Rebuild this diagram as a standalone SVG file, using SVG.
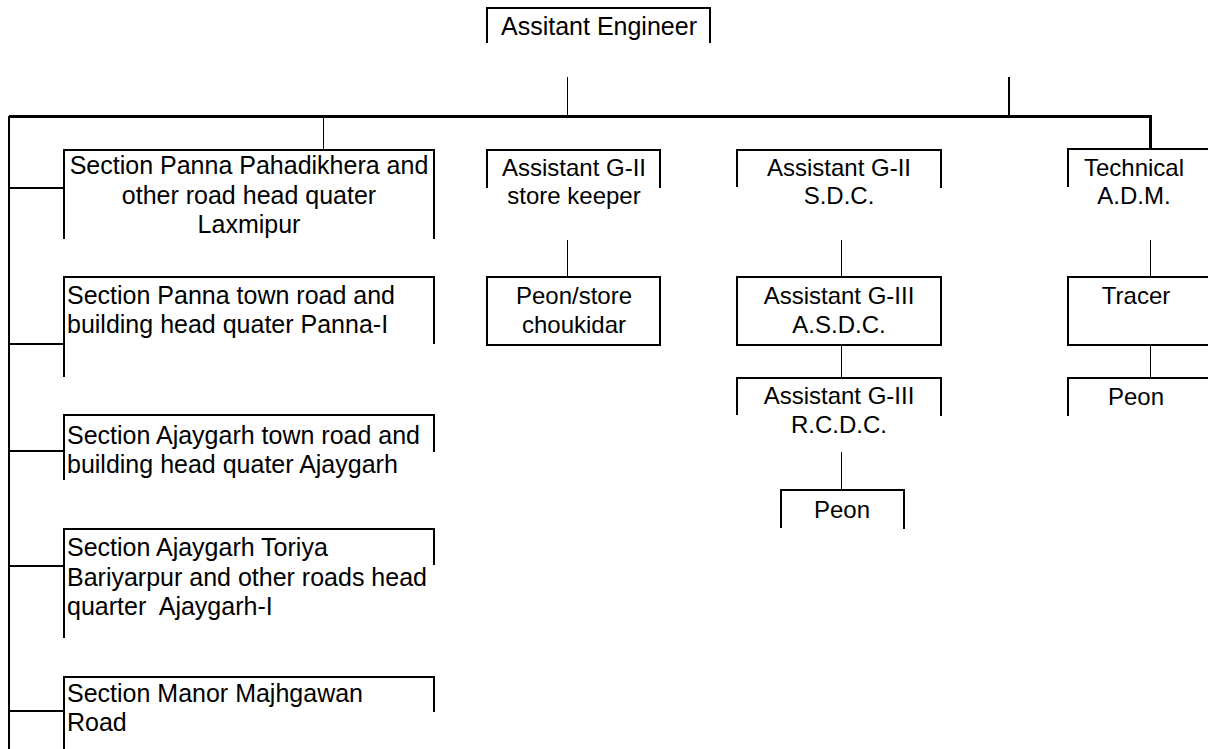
<svg xmlns="http://www.w3.org/2000/svg" width="1208" height="749" viewBox="0 0 1208 749">
<style>
.box{fill:none;stroke:#000;stroke-width:2}
.thin{fill:none;stroke:#000;stroke-width:1}
.med{fill:none;stroke:#000;stroke-width:2}
.thick{fill:none;stroke:#000;stroke-width:3}
text{font-family:"Liberation Sans",Arial,sans-serif;font-size:25px;fill:#000}
.c{text-anchor:middle}
.n{font-size:24px}
</style>
<rect width="1208" height="749" fill="#fff"/>
<g id="connectors">
<line class="thin" x1="567.5" y1="77" x2="567.5" y2="116"/>
<line class="med" x1="1009" y1="77" x2="1009" y2="116"/>
<path class="thick" d="M9,116.5 H1150.5 V149"/>
<line class="med" x1="9" y1="116" x2="9" y2="749"/>
<line class="thin" x1="323.5" y1="116" x2="323.5" y2="150"/>
<line class="med" x1="9" y1="188" x2="64" y2="188"/>
<line class="med" x1="9" y1="344" x2="64" y2="344"/>
<line class="med" x1="9" y1="451" x2="64" y2="451"/>
<line class="med" x1="9" y1="566" x2="64" y2="566"/>
<line class="med" x1="9" y1="711" x2="64" y2="711"/>
<line class="thin" x1="567.5" y1="240" x2="567.5" y2="277"/>
<line class="thin" x1="841.5" y1="240" x2="841.5" y2="277"/>
<line class="thin" x1="841.5" y1="345" x2="841.5" y2="378"/>
<line class="thin" x1="841.5" y1="452" x2="841.5" y2="490"/>
<line class="thin" x1="1150.5" y1="240" x2="1150.5" y2="277"/>
<line class="thin" x1="1150.5" y1="345" x2="1150.5" y2="378"/>
</g>
<g id="ae">
<path class="box" d="M487,43 V8 H710 V43"/>
<text class="c" x="599" y="35">Assitant Engineer</text>
</g>
<g id="sec1">
<path class="box" d="M64,239 V150 H434 V239"/>
<text class="c" x="249" y="174">Section Panna Pahadikhera and</text>
<text class="c" x="249" y="204">other road head quater</text>
<text class="c" x="249" y="233">Laxmipur</text>
</g>
<g id="sec2">
<path class="box" d="M64,377 V277 H434 V344"/>
<text x="67" y="304">Section Panna town road and</text>
<text x="67" y="333">building head quater Panna-I</text>
</g>
<g id="sec3">
<path class="box" d="M64,480 V415 H434 V452"/>
<text x="67" y="444">Section Ajaygarh town road and</text>
<text x="67" y="473">building head quater Ajaygarh</text>
</g>
<g id="sec4">
<path class="box" d="M64,638 V529 H434 V565"/>
<text x="67" y="556">Section Ajaygarh Toriya</text>
<text x="67" y="586">Bariyarpur and other roads head</text>
<text x="67" y="615" xml:space="preserve">quarter  Ajaygarh-I</text>
</g>
<g id="sec5">
<path class="box" d="M64,749 V677 H434 V712"/>
<text x="67" y="702">Section Manor Majhgawan</text>
<text x="67" y="731">Road</text>
</g>
<g id="storekeeper">
<path class="box" d="M487,188 V150 H660 V188"/>
<text class="c n" x="574" y="176">Assistant G-II</text>
<text class="c n" x="574" y="204">store keeper</text>
</g>
<g id="peonstore">
<rect class="box" x="487" y="277" width="173" height="68"/>
<text class="c n" x="574" y="304">Peon/store</text>
<text class="c n" x="574" y="333">choukidar</text>
</g>
<g id="sdc">
<path class="box" d="M737,187 V150 H941 V188"/>
<text class="c n" x="839" y="176">Assistant G-II</text>
<text class="c n" x="839" y="204">S.D.C.</text>
</g>
<g id="asdc">
<rect class="box" x="737" y="277" width="204" height="68"/>
<text class="c n" x="839" y="304">Assistant G-III</text>
<text class="c n" x="839" y="333">A.S.D.C.</text>
</g>
<g id="rcdc">
<path class="box" d="M737,415 V378 H941 V416"/>
<text class="c n" x="839" y="404">Assistant G-III</text>
<text class="c n" x="839" y="433">R.C.D.C.</text>
</g>
<g id="peon1">
<path class="box" d="M781,528 V490 H904 V529"/>
<text class="c n" x="842" y="518">Peon</text>
</g>
<g id="technical">
<path class="box" d="M1068,187 V149 H1210"/>
<text class="c n" x="1134" y="176">Technical</text>
<text class="c n" x="1134" y="204">A.D.M.</text>
</g>
<g id="tracer">
<path class="box" d="M1210,277 H1068 V345 H1210"/>
<text class="c n" x="1136" y="304">Tracer</text>
</g>
<g id="peon2">
<path class="box" d="M1068,416 V378 H1210"/>
<text class="c n" x="1136" y="405">Peon</text>
</g>
</svg>
